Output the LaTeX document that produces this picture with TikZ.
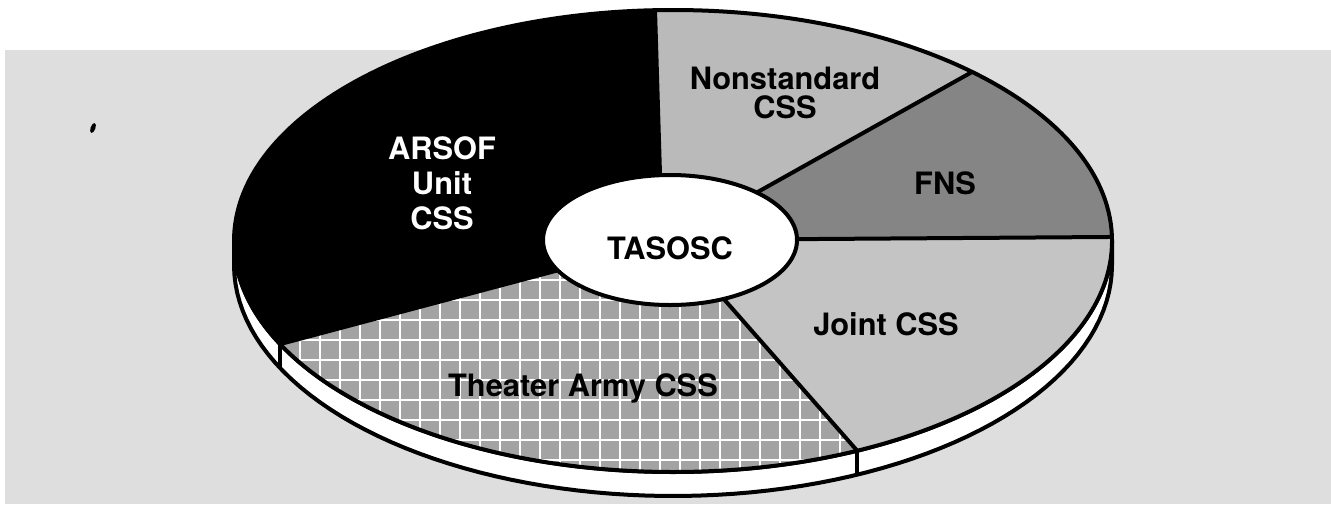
\documentclass[tikz,border=0pt]{standalone}
\usepackage{fontspec}
\setmainfont{TeX Gyre Heros}
\usetikzlibrary{shapes.geometric}
\definecolor{backdrop}{gray}{0.87}
\newcommand{\labelfont}{\fontsize{15.4}{17.5}\selectfont\bfseries}

\begin{document}
\begin{tikzpicture}[x=0.5pt,y=-0.5pt,font=\labelfont,line width=2pt,
  nonstd/.style={fill=black!27},
  fns/.style={fill=black!48},
  joint/.style={fill=black!23},
  theater/.style={fill=black!36},
  arsof/.style={fill=black},
  hubnode/.style={ellipse,draw,fill=white,inner sep=0pt,
    minimum width=127pt,minimum height=65pt,text height=20pt}]
\useasboundingbox (0,0) rectangle (1331,504);
\fill[backdrop] (5,50) rectangle (1331,504);
\fill[rotate around={-20:(93,128)}] (93,128) ellipse [x radius=1.2pt,y radius=2.6pt];

\coordinate (hub) at (672,240);
\coordinate (hubtop) at (662,240);
\coordinate (r1) at ({673+439*cos(-92.35)},{241+231*sin(-92.35)});
\coordinate (r2) at ({673+439*cos(-47.05)},{241+231*sin(-47.05)});
\coordinate (r3) at ({673+439*cos(-1)},{241+231*sin(-1)});
\coordinate (r4) at ({673+439*cos(65.2)},{241+231*sin(65.2)});
\coordinate (r5) at ({673+439*cos(153.5)},{241+231*sin(153.5)});
\coordinate (r4b) at ({673+439*cos(65.2)},{265+231*sin(65.2)});
\coordinate (r5b) at ({673+439*cos(153.5)},{265+231*sin(153.5)});

% rim below the top face
\draw[fill=white] plot[domain=0:180,samples=80] ({673+439*cos(\x)},{241+231*sin(\x)})
  -- plot[domain=180:0,samples=80] ({673+439*cos(\x)},{265+231*sin(\x)}) -- cycle;

% slices
\fill[nonstd] (hubtop) -- (r1) -- plot[domain=-92.35:-47.05,samples=40] ({673+439*cos(\x)},{241+231*sin(\x)}) -- (hub) -- cycle;
\fill[fns] (hub) -- (r2) -- plot[domain=-47.05:-1,samples=40] ({673+439*cos(\x)},{241+231*sin(\x)}) -- cycle;
\fill[joint] (hub) -- (r3) -- plot[domain=-1:65.2,samples=40] ({673+439*cos(\x)},{241+231*sin(\x)}) -- cycle;
\fill[theater] (hub) -- (r4) -- plot[domain=65.2:153.5,samples=40] ({673+439*cos(\x)},{241+231*sin(\x)}) -- cycle;
\fill[arsof] (hub) -- (r5) -- plot[domain=153.5:267.65,samples=60] ({673+439*cos(\x)},{241+231*sin(\x)}) -- (hubtop) -- cycle;
\begin{scope}
  \clip (hub) -- (r4) -- plot[domain=65.2:153.5,samples=40] ({673+439*cos(\x)},{241+231*sin(\x)}) -- cycle;
  \draw[white,line width=1.2pt,step=10pt] (250,250) grid (900,500);
\end{scope}

\draw (673,241) ellipse [x radius=219.5pt,y radius=115.5pt];
\draw (hubtop) -- (r1);
\foreach \r in {r2,r3,r4,r5}
  \draw (hub) -- (\r);
\draw (r4) -- (r4b);
\draw (r5) -- (r5b);

\node[hubnode] (tasosc) at (670,240) {TASOSC};
\node[align=center,text=white] (arsoflbl) at (442,183) {ARSOF\\Unit\\CSS};
\node[align=center,font=\fontsize{15.4}{14.2}\selectfont\bfseries] (nonstdlbl) at (785,93) {Nonstandard\\CSS};
\node (fnslbl) at (945,183) {FNS};
\node (jointlbl) at (886,324) {Joint CSS};
\node (theaterlbl) at (583,388) {Theater Army CSS};
\end{tikzpicture}
\end{document}
